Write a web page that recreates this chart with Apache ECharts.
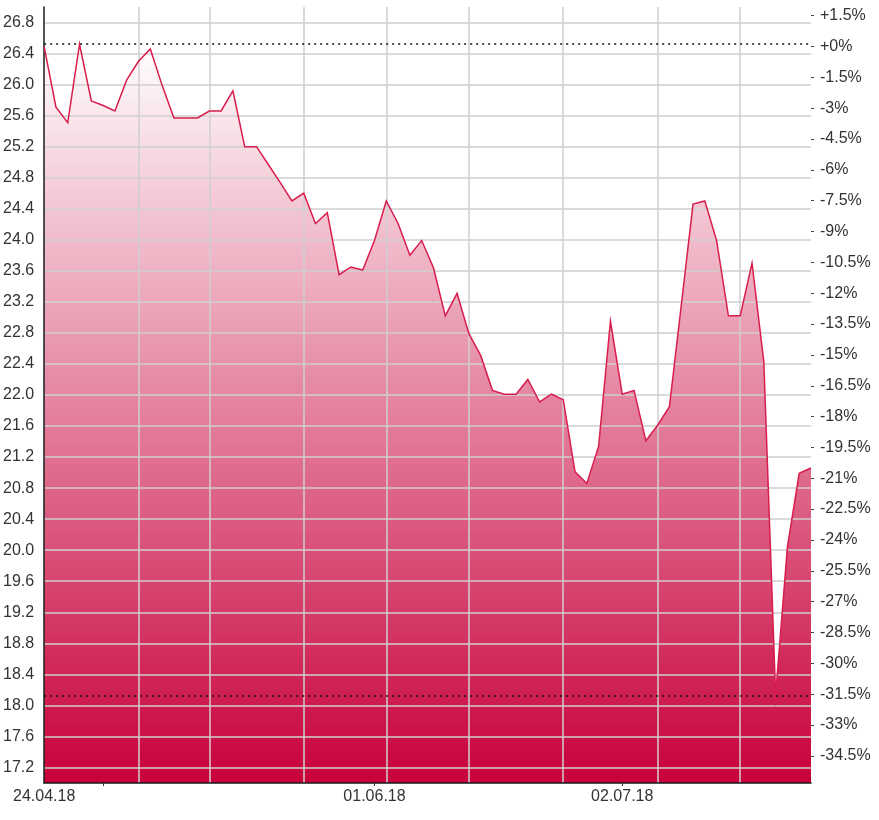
<!DOCTYPE html>
<html>
<head>
<meta charset="utf-8">
<title>Kursverlauf</title>
<script src="https://cdn.jsdelivr.net/npm/echarts@6/dist/echarts.min.js"></script>
<style>
  html, body { margin: 0; padding: 0; background: #fff; }
  #chart { width: 879px; height: 820px; }
</style>
</head>
<body>
<div id="chart"></div>
<script>
// trading days 24.04.18 - 24.07.18
const dates = [
  '24.04.18', '25.04.18', '26.04.18', '27.04.18', '30.04.18',
  '01.05.18', '02.05.18', '03.05.18', '04.05.18',
  '07.05.18', '08.05.18', '09.05.18', '10.05.18', '11.05.18',
  '14.05.18', '15.05.18', '16.05.18', '17.05.18', '18.05.18',
  '21.05.18', '22.05.18', '23.05.18', '24.05.18', '25.05.18',
  '28.05.18', '29.05.18', '30.05.18', '31.05.18',
  '01.06.18', '04.06.18', '05.06.18', '06.06.18', '07.06.18', '08.06.18',
  '11.06.18', '12.06.18', '13.06.18', '14.06.18', '15.06.18',
  '18.06.18', '19.06.18', '20.06.18', '21.06.18', '22.06.18',
  '25.06.18', '26.06.18', '27.06.18', '28.06.18', '29.06.18',
  '02.07.18', '03.07.18', '04.07.18', '05.07.18', '06.07.18',
  '09.07.18', '10.07.18', '11.07.18', '12.07.18', '13.07.18',
  '16.07.18', '17.07.18', '18.07.18', '19.07.18', '20.07.18',
  '23.07.18', '24.07.18'
];

const prices = [
  26.49, 25.71, 25.51, 26.52, 25.79, 25.73, 25.66, 26.06, 26.30, 26.46,
  25.99, 25.57, 25.57, 25.57, 25.66, 25.66, 25.92, 25.20, 25.20, 24.97,
  24.74, 24.50, 24.60, 24.21, 24.35, 23.55, 23.65, 23.61, 23.99, 24.50,
  24.21, 23.80, 23.99, 23.64, 23.02, 23.31, 22.79, 22.51, 22.06, 22.01,
  22.01, 22.20, 21.91, 22.01, 21.94, 21.01, 20.86, 21.34, 22.95, 22.01,
  22.06, 21.41, 21.61, 21.85, 23.15, 24.46, 24.50, 23.99, 23.02, 23.02,
  23.70, 22.43, 18.13, 20.04, 20.99, 21.06
];

const priceTicks = [
  17.2, 17.6, 18.0, 18.4, 18.8, 19.2, 19.6, 20.0, 20.4, 20.8, 21.2, 21.6, 22.0,
  22.4, 22.8, 23.2, 23.6, 24.0, 24.4, 24.8, 25.2, 25.6, 26.0, 26.4, 26.8
];

const pctTicks = [
  -34.5, -33, -31.5, -30, -28.5, -27, -25.5, -24, -22.5, -21, -19.5, -18,
  -16.5, -15, -13.5, -12, -10.5, -9, -7.5, -6, -4.5, -3, -1.5, 0, 1.5
];

const labelDays = ['24.04.18', '01.06.18', '02.07.18'];
const tickDays = ['01.05.18', '01.06.18', '02.07.18'];
const gridDays = ['04.05.18', '14.05.18', '24.05.18', '04.06.18',
  '13.06.18', '25.06.18', '05.07.18', '16.07.18'];

const priceMin = 17.0;
const priceMax = 27.0;
const basePrice = prices[0];

const font = "'Liberation Sans', Arial, sans-serif";
const textColor = '#333';
const lineColor = '#d81d4c';

const chart = echarts.init(document.getElementById('chart'));

const option = {
  animation: false,
  backgroundColor: '#fff',
  grid: { left: 44, right: 68, top: 7, bottom: 37 },
  xAxis: {
    type: 'category',
    data: dates,
    boundaryGap: false,
    z: 2,
    axisLine: { onZero: false, lineStyle: { color: '#1a1a1a', width: 1.5 } },
    axisTick: {
      length: 3,
      lineStyle: { color: '#333' },
      interval: (i, v) => tickDays.includes(v)
    },
    axisLabel: {
      margin: 6,
      color: textColor,
      fontFamily: font,
      fontSize: 16,
      interval: (i, v) => labelDays.includes(v)
    },
    splitLine: {
      show: true,
      interval: (i, v) => gridDays.includes(v),
      lineStyle: { color: '#cfcfcf', width: 1.5 }
    }
  },
  yAxis: [
    {
      type: 'value',
      min: priceMin,
      max: priceMax,
      z: 2,
      axisLine: { show: true, onZero: false, lineStyle: { color: '#1a1a1a', width: 1.5 } },
      axisTick: { show: false, customValues: priceTicks },
      axisLabel: {
        customValues: priceTicks,
        margin: 10,
        color: textColor,
        fontFamily: font,
        fontSize: 16,
        formatter: v => v.toFixed(1)
      },
      splitLine: { show: true, lineStyle: { color: '#cfcfcf', width: 1.5 } }
    },
    {
      type: 'value',
      position: 'right',
      min: (priceMin / basePrice - 1) * 100,
      max: (priceMax / basePrice - 1) * 100,
      alignTicks: false,
      z: 2,
      axisLine: { show: false, onZero: false },
      axisTick: {
        show: true,
        length: 3,
        customValues: pctTicks,
        lineStyle: { color: '#444' }
      },
      axisLabel: {
        customValues: pctTicks,
        margin: 9,
        color: textColor,
        fontFamily: font,
        fontSize: 16,
        formatter: v => (v >= 0 ? '+' : '') + (Math.round(v * 10) / 10) + '%'
      },
      splitLine: { show: false }
    }
  ],
  series: [
    {
      name: 'area',
      type: 'line',
      data: prices,
      z: 1,
      symbol: 'none',
      silent: true,
      lineStyle: { width: 0 },
      areaStyle: {
        opacity: 1,
        color: new echarts.graphic.LinearGradient(0, 0, 0, 1, [
          { offset: 0, color: '#ffffff' },
          { offset: 1, color: '#c8003a' }
        ])
      }
    },
    {
      name: 'Kurs',
      type: 'line',
      data: prices,
      z: 3,
      symbol: 'none',
      lineStyle: { color: lineColor, width: 1.5, join: 'miter', miterLimit: 40 },
      markLine: {
        silent: true,
        symbol: ['none', 'none'],
        label: { show: false },
        lineStyle: { color: '#111', type: [2, 4], width: 1.5 },
        data: [{ type: 'max' }, { type: 'min' }]
      }
    }
  ]
};

chart.setOption(option);
</script>
</body>
</html>
